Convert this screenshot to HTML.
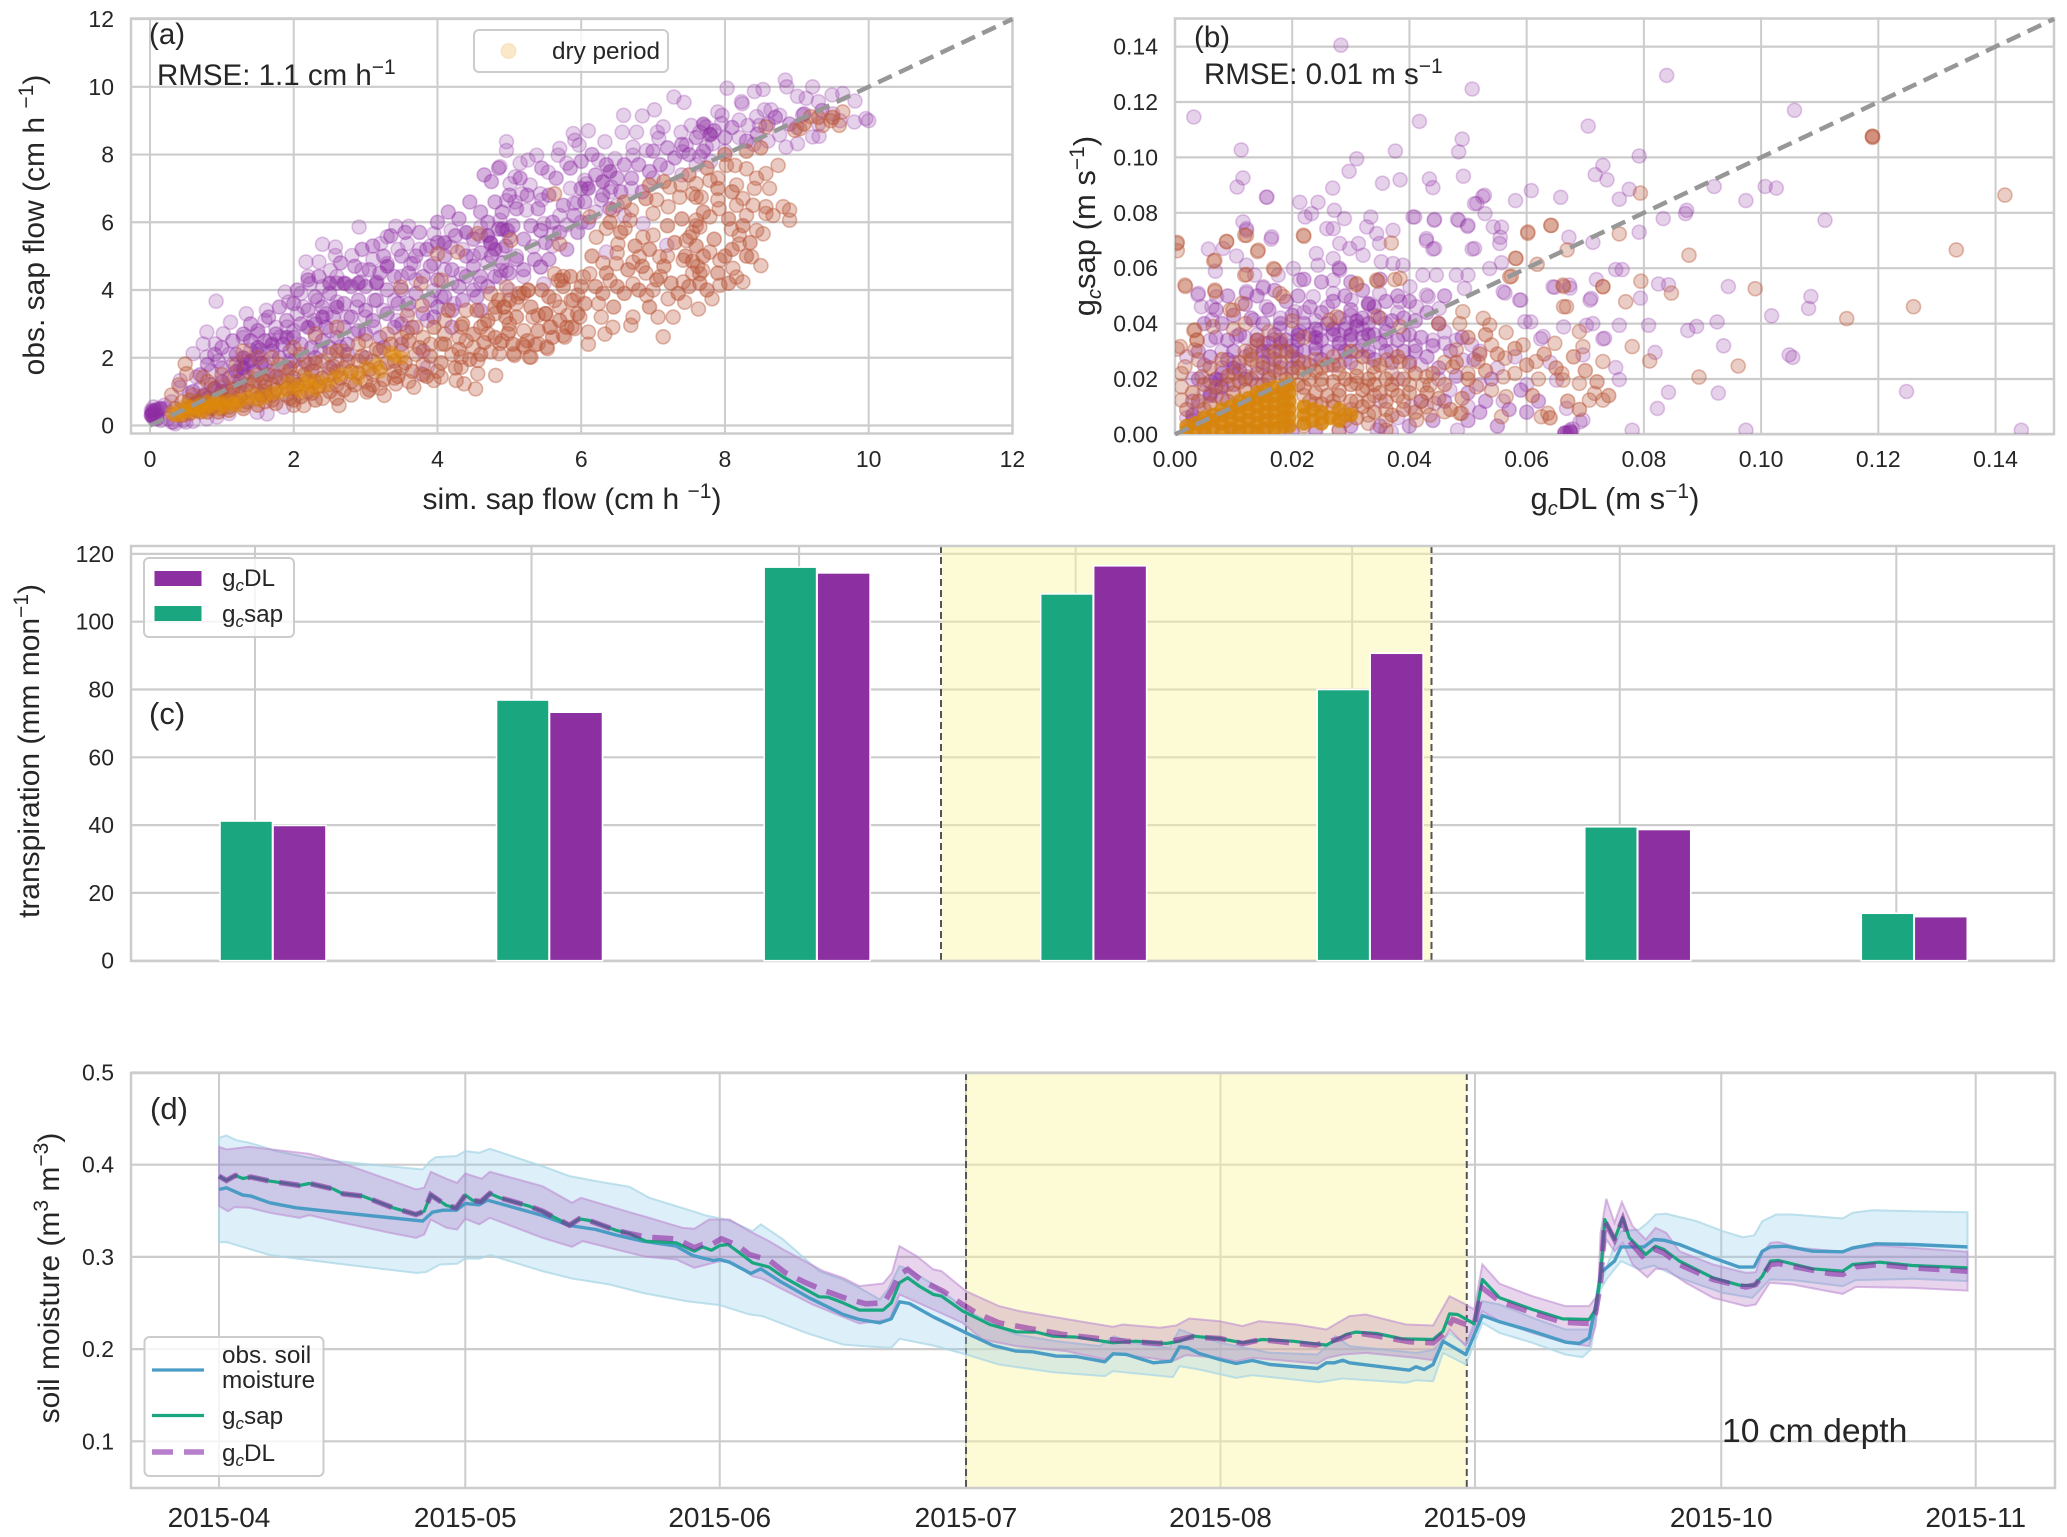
<!DOCTYPE html>
<html lang="en">
<head>
<meta charset="utf-8">
<title>Sap flow, canopy conductance, transpiration and soil moisture</title>
<style>
html,body{margin:0;padding:0;background:#fff;}
svg{display:block;}
text{font-family:"Liberation Sans",Arial,sans-serif;fill:#262626;}
.tick{font-size:23px;}
.lab{font-size:30px;}
.ann{font-size:29.5px;}
.leg{font-size:24.3px;}
</style>
</head>
<body>
<svg id="fig" xmlns="http://www.w3.org/2000/svg" width="2067" height="1537" viewBox="0 0 2067 1537">
  <defs>
    <clipPath id="clipA"><rect x="131" y="18.5" width="881.5" height="415"/></clipPath>
    <clipPath id="clipB"><rect x="1175" y="18.5" width="879" height="415.5"/></clipPath>
    <clipPath id="clipD"><rect x="131" y="1073" width="1924" height="415"/></clipPath>
  </defs>
  <g id="panelA"></g>
  <g id="panelB"></g>
  <g id="panelC"></g>
  <g id="panelD"></g>

  <g>
    <text x="149" y="44" class="ann">(a)</text>
    <text x="157" y="85" class="ann">RMSE: 1.1 cm h<tspan dy="-11" font-size="21">−1</tspan></text>
    <text x="572" y="509" text-anchor="middle" class="lab">sim. sap flow (cm h <tspan dy="-11" font-size="21">−1</tspan><tspan dy="11">)</tspan></text>
    <text x="0" y="0" transform="translate(44 225) rotate(-90)" text-anchor="middle" class="lab">obs. sap flow (cm h <tspan dy="-11" font-size="21">−1</tspan><tspan dy="11">)</tspan></text>
    <rect x="474" y="30" width="194" height="42" rx="5" fill="#fff" fill-opacity="0.8" stroke="#ccc" stroke-width="2"/>
    <circle cx="508.5" cy="51" r="7.5" fill="rgb(232,150,10)" fill-opacity="0.22" stroke="rgb(232,150,10)" stroke-opacity="0.12" stroke-width="1.5"/>
    <text x="552" y="59" font-size="24.3">dry period</text>
  </g>

  <g>
    <text x="1194" y="47" class="ann">(b)</text>
    <text x="1204" y="84" class="ann">RMSE: 0.01 m s<tspan dy="-11" font-size="21">−1</tspan></text>
    <text x="1615" y="509" text-anchor="middle" font-size="31">g<tspan dy="6" font-size="20" font-style="italic">c</tspan><tspan dy="-6">DL (m s</tspan><tspan dy="-11" font-size="21">−1</tspan><tspan dy="11">)</tspan></text>
    <text x="0" y="0" transform="translate(1095 226) rotate(-90)" text-anchor="middle" font-size="31">g<tspan dy="6" font-size="20" font-style="italic">c</tspan><tspan dy="-6">sap (m s</tspan><tspan dy="-11" font-size="21">−1</tspan><tspan dy="11">)</tspan></text>
  </g>

  <g>
    <text x="149" y="724" font-size="31">(c)</text>
    <text x="0" y="0" transform="translate(39 751) rotate(-90)" text-anchor="middle" class="lab">transpiration (mm mon<tspan dy="-11" font-size="21">−1</tspan><tspan dy="11">)</tspan></text>
    <rect x="144" y="558" width="150" height="79" rx="5" fill="#fff" fill-opacity="0.8" stroke="#ccc" stroke-width="2"/>
    <rect x="154.5" y="571" width="47" height="15" fill="#8b2fa1"/>
    <rect x="154.5" y="606" width="47" height="15" fill="#1aa67f"/>
    <text x="222" y="586" class="leg">g<tspan dy="5" font-size="17" font-style="italic">c</tspan><tspan dy="-5">DL</tspan></text>
    <text x="222" y="622" class="leg">g<tspan dy="5" font-size="17" font-style="italic">c</tspan><tspan dy="-5">sap</tspan></text>
  </g>

  <g>
    <text x="150" y="1119" font-size="31">(d)</text>
    <text x="1722" y="1442" font-size="33.7">10 cm depth</text>
    <text x="0" y="0" transform="translate(59 1278) rotate(-90)" text-anchor="middle" class="lab">soil moisture (m<tspan dy="-11" font-size="21">3</tspan><tspan dy="11"> m</tspan><tspan dy="-11" font-size="21">−3</tspan><tspan dy="11">)</tspan></text>
    <rect x="144.5" y="1337" width="179" height="139" rx="5" fill="#fff" fill-opacity="0.8" stroke="#ccc" stroke-width="2"/>
    <line x1="152" y1="1370" x2="204" y2="1370" stroke="#4a9cc5" stroke-width="3.2"/>
    <line x1="152" y1="1415.5" x2="204" y2="1415.5" stroke="#1aa67f" stroke-width="3.2"/>
    <line x1="152" y1="1452" x2="204" y2="1452" stroke="#b57fcb" stroke-width="5.5" stroke-dasharray="21 11"/>
    <text x="222" y="1363" class="leg">obs. soil</text>
    <text x="222" y="1388" class="leg">moisture</text>
    <text x="222" y="1424" class="leg">g<tspan dy="5" font-size="17" font-style="italic">c</tspan><tspan dy="-5">sap</tspan></text>
    <text x="222" y="1461" class="leg">g<tspan dy="5" font-size="17" font-style="italic">c</tspan><tspan dy="-5">DL</tspan></text>
  </g>
</svg>

<script>
/* ---------- panel (a) data: [simulated, observed] in cm/h ---------- */
const aTicks=[0,2,4,6,8,10,12];
const aWet=[[8.84,10.2],[8.86,10],[8.03,9.96],[8.41,9.86],[8.53,9.92],[9.22,10],[9.01,9.72],[9.13,9.66],[9.49,9.76],[9.64,9.8],[9.81,9.58],[9.96,9.06],[10,9],[9.8,8.96],[8.23,9.56],[8.24,9.5],[7.29,9.7],[7.43,9.54],[6.59,9.16],[6.85,9.14],[7.02,9.32],[6.1,8.7],[5.89,8.62],[5.91,8.42],[5.97,8.28],[6.57,8.66],[6.77,8.66],[7.14,8.82],[7.06,8.66],[7.08,8.48],[7.39,8.66],[7.53,8.86],[7.9,9.26],[7.96,9.16],[7.95,8.92],[7.74,8.82],[7.65,8.66],[7.79,8.58],[8.2,9.02],[8.32,8.86],[8.44,9.12],[8.55,9.32],[8.64,9.32],[8.76,9.16],[8.48,8.86],[8.76,8.58],[8.85,8.22],[9.01,8.32],[9.22,8.52],[9.31,8.54],[9.08,9.16],[9.3,9.56],[7.83,8.32],[7.46,8.28],[7.41,8.08],[7.65,7.94],[7.74,8.22],[6.72,8.22],[6.72,7.98],[6.91,8.12],[6.33,8.38],[6.24,7.84],[6.47,7.88],[5.7,8.18],[5.68,7.98],[5.38,7.98],[5.26,7.84],[5.15,7.74],[4.96,8.38],[4.96,8.12],[4.87,7.64],[5.54,7.48],[5.8,7.74],[5.85,7],[6.05,7.24],[6.07,7.14],[6.42,7.04],[6.4,6.9],[5.9,6.56],[6.28,6.66],[5.08,7.34],[5.01,7.14],[5.29,7.1],[5.43,6.84],[5.45,6.66],[5.17,6.84],[5.08,6.6],[5.24,6.36],[4.96,6.64],[4.96,5.76],[5,5.56],[4.87,6.06],[5.48,5.96],[5.43,5.76],[5.62,5.66],[5.8,5.92],[5.95,6.6],[5.33,5.28],[5.43,4.68],[4.96,4.58],[4.87,4.38],[5.48,4.18],[6.86,5.96],[6.35,5.12],[7.19,5.32],
[2.91,5.86],[3.42,5.88],[3.6,5.88],[2.4,5.35],[2.58,5.27],[2.17,4.83],[2.35,4.83],[2.58,5.02],[2.81,5.02],[1.88,3.94],[1.93,3.65],[.92,3.67],[1.62,3.4],[1.34,3.3],[1.6,3.1],[1.12,3.05],[.79,2.76],[1.02,2.71],[.74,2.41],[.91,2.41],[.42,1.33],[2.72,4.19],[2.93,4.24],[3.16,4.24],[2.51,4.58],[2.23,4.19],[2.33,3.69],[2.6,3.65],[2.88,3.5],[3.3,4.78],[3.67,4.78],[3.95,5.66],[4.19,5.27],[4.74,5.37],[4.98,5.76],[4.88,4.58],[4.33,4.48],[5.44,4.68],[5.44,5.76],[4.19,5.76],[4.6,5.86],[3.95,4.78],[3.12,3.69],[3.4,3.69],[3.21,5.37],[3.3,5.57],[3.58,5.37],[3.63,4.78],[4.05,3.8],[3.86,3.1],[3.95,3.99],[4.23,3.6],[1.91,2.91],[2.14,3.5],[2.28,3.1],[1.81,2.61],[1.53,2.22],[1.26,1.72],[1.16,1.82],[1.4,2.22],[1.67,2.51],[1.95,1.92],[2.37,2.22],[2.65,2.32],[2.84,2.71],[2.6,1.92],[3.12,2.91],[3.44,3.1],[.6,2.12],[.79,2.02],[.65,1.43],[.42,1.13],[3.86,1.72],[3.77,1.53],[1.63,.34],[1.49,.39],[1.86,.54],[.33,.1],[.47,.15],[.79,.2],[.93,.25],[1.1,.35],[2.2,4.4],[2.4,4.1],[2.6,4.4],[2.95,4.6],[3.1,4.9],[3.45,5.2],[3.75,5.2],[3.9,5.3],[4.35,5.2],[4.5,5],[4.6,5.6],[4.1,4.6],[4.2,4.2],[3.7,4.3],[3.5,4.4],[2.1,3.9],[2.05,3.3],[2.45,3.3],[2.75,3.2],[3,3.2],[3.25,3.4],[3.6,3.4],[1.3,2.6],[1.5,2.7],[1.75,2.9],[2,2.8],[2.3,2.6],[2.5,2.8],[1.1,2.1],[.95,1.9],[.85,1.6],[.7,1.1],[.55,.95],[.3,.7],[.2,.6],[.12,.5],[.02,.3],[.02,.45],[.05,.2],[.05,.55],[.1,.3],[.1,.45],[.15,.15],[.2,.5],[.25,.2],[.3,.1],[.35,.05],[.5,.1],[.6,.12],[5,4],[5.2,4.4],[4.6,4.2],[5.1,5],[4.9,5.2],[4.7,4.8],[5.6,5.3],[6,6],[6.2,6.3],[5.7,6.2],[6.5,6.5],[6.7,7],[7,7.3],[7.2,7.6],[7.6,7.7],[6.6,6.2],[7.4,7.4],[8,8.1],[8.2,8.5],[7.8,7.8],[8.4,8.3],[8.6,8.4],[9,8.8],[9.3,8.9],[9.5,9.2],[9.6,9]];
const aWetExtra=[[.6,1],[.7,1.5],[.8,1.8],[.85,1.2],[.9,2.1],[1,1.7],[1,2.3],[1.05,1],[1.1,1.4],[1.15,2.5],[1.2,2.1],[1.25,1.3],[1.3,2.7],[1.3,1.5],[1.35,1.8],[1.4,2.5],[1.4,3],[1.45,1.6],[1.5,2.1],[1.5,2.8],[1.55,1.4],[1.6,1.8],[1.6,2.5],[1.65,3.2],[1.7,1.6],[1.7,2.2],[1.75,2.7],[1.8,3.5],[1.8,2],[1.85,2.4],[1.9,3.1],[1.9,1.7],[1.95,2.2],[2,3.6],[2,2.6],[2,1.9],[2.05,4],[2.1,2.4],[2.1,3],[2.15,1.9],[2.2,3.4],[2.2,4.3],[2.25,2.3],[2.3,3],[2.3,3.8],[2.3,2],[2.35,4.4],[2.4,2.5],[2.4,3.5],[2.45,2.9],[2.5,3.9],[2.5,2.3],[2.55,3.2],[2.6,4.2],[2.6,2.6],[2.65,4.8],[2.7,3.6],[2.7,2.9],[2.75,2.4],[2.8,4.1],[2.8,3.2],[2.85,4.7],[2.9,2.8],[2.9,3.7],[2.95,5.2],[3,4.1],[3,3.4],[3,2.7],[3.05,4.6],[3.1,3.1],[3.1,5.3],[3.15,3.7],[3.2,4.5],[3.2,2.6],[3.25,5],[3.3,3.3],[3.3,4],[3.35,5.6],[3.4,2.9],[3.4,4.4],[3.45,3.6],[3.5,5],[3.5,4],[3.5,3],[3.55,5.7],[3.6,3.6],[3.6,4.5],[3.65,2.9],[3.7,5],[3.7,3.9],[3.75,5.7],[3.8,4.4],[3.8,3.3],[3.85,5.2],[3.9,3.7],[3.9,4.7],[3.95,3.2],[4,6],[4,5.4],[4,4.3],[4,3.5],[4.1,5],[4.1,3.8],[4.15,6.3],[4.2,4.6],[4.2,3.4],[4.25,5.6],[4.3,4.1],[4.3,6.1],[4.35,3.7],[4.4,5],[4.4,4.4],[4.45,6.6],[4.5,4],[4.5,5.5],[4.5,4.7],[4.55,3.8],[4.6,6.3],[4.6,5.1],[4.6,4.4],[4.65,7.4],[4.7,4.1],[4.7,6],[4.75,7.2],[4.75,5],[4.8,6.6],[4.8,4.4],[4.85,7.6],[4.85,5.8],[4.9,4.8],[4.9,6.3],[4.95,5.3],[5,6.8],[5,4.5],[5.05,5.9],[5.1,4.9],[5.1,6.4],[5.15,7.3],[5.2,5.5],[5.2,4.6],[5.25,6.8],[5.3,5.9],[5.35,4.9],[5.4,6.4],[5.45,7.6],[5.5,5.4],[5.55,6.8],[5.55,4.9],[5.6,6],[5.65,7.3],[5.7,5.7],[5.75,6.5],[5.8,5.2],[5.85,7.6],[5.9,6.2],[5.95,5.7],[6,7],[6,7.8],[6.05,6.6],[6.1,6],[6.15,8],[6.2,7.4],[6.3,6.8],[6.35,7.7],[6.4,6.4],[6.5,7.3],[6.55,6.9],[6.6,7.7],[6.7,7.3],[6.8,7.7],[6.85,6.9],[6.95,7.5],[7,8.1],[7.1,7.7],[7.2,8.2],[7.3,7.9],[7.4,8.3],[7.5,8],[7.6,8.5],[7.7,8.1],[7.85,8.7],[8,8.5],[8.1,8.8],[8.3,8.4],[8.45,8.6],[8.6,8.9],[8.7,9.1],[8.9,8.9],[9.1,9.2],[9.35,9.3],[1.5,1],[2,1.3],[2.5,1.7],[3,2],[3.5,2.4],[3.8,2.2],[4.2,2.9],[4.6,3.4],[1,1],[.8,.8],[1.25,1.15],[.65,.65],[1.75,1.45],[2.25,1.6],[2.75,2.1],[3.25,2.3]];
const aDry=[[9.64,9.26],[9.59,8.86],[9.47,9],[9.36,8.86],[9.04,8.76],[8.97,8.72],[9.19,9.12],[8.57,8.82],[8.74,7.68],[8.57,7.44],[8.62,7],[8.44,7.3],[8.41,7],[8.16,7.1],[8.14,7.68],[8.3,7.58],[8.02,7.68],[7.79,7.24],[7.9,7.3],[7.6,7.14],[7.39,7.1],[7.23,7.04],[7.05,6.66],[7.37,6.74],[7.55,6.84],[7.6,6.74],[7.67,6.74],[7.9,6.66],[7.92,6.4],[8.25,6.7],[8.16,6.5],[8.3,6.2],[8.39,6.5],[8.57,6.46],[8.57,6.26],[8.81,6.46],[8.9,6.36],[8.9,6.06],[8.67,6.2],[8.53,5.66],[8.44,5.76],[8.37,4.98],[8.5,4.72],[8.11,4.64],[8.25,4.24],[8.16,4.38],[8.09,5.8],[8.2,5.62],[8.2,5.36],[7.79,6.16],[7.6,6.06],[7.65,5.86],[7.51,5.56],[7.46,5.46],[7.69,4.58],[7.65,4.48],[7.42,4.88],[7.79,5.12],[7.93,4.88],[7.93,4.14],[7.82,3.74],[7.63,3.44],[7.42,4.24],[7.44,3.64],[7.21,3.74],[7.28,3.2],[7.07,3.2],[7.14,2.62],[7,4],[6.91,3.84],[7.09,4.98],[7,5.62],[7.21,6.46],[7,6.26],[6.7,6.36],[6.68,6.06],[6.61,5.82],[6.86,5.56],[6.81,4.98],[6.72,4.82],[6.51,5.36],[6.49,4.78],[6.35,5.82],[6.21,5.56],[6.4,4.28],[6.72,4.18],[6.24,3.6],[6.28,3.2],[6.72,3.2],[6.69,2.96],[6.44,2.9],[6.33,2.7],[6.1,2.76],[6.1,2.4],[5.87,2.9],[5.75,2.66],[5.56,2.9],[5.52,2.32],[5.36,2.38],[5.19,2.38],[5.06,2.12],[5.28,2.02],[5.89,3.7],[5.68,4.28],[6.03,4.38],[5.7,5.36],[5.7,3.5],[5.33,3.2],[4.92,3.5],[5,2.8],[4.87,2.42],[5.14,3.9],[5.26,4],[4.96,4.08],[5.98,3.2],[5.63,6.84],[6.12,6.16],[6.44,6.36],[6.12,4.48],[7.62,4.7],[7.55,4.5],[7.6,5.9],[7.55,5.7],[5.75,4.4],[5.95,3.85],[6.3,4.8],[6.5,5.1],[6.9,4.5],[7.1,4.4],[7.2,5],
[4.53,1.08],[4.81,1.48],[4.37,1.23],[4.26,1.33],[4.56,1.53],[4.33,1.72],[3.95,1.33],[3.67,1.13],[3.42,1.23],[3.26,.89],[2.63,.59],[2.14,.59],[3.02,.99],[4.05,1.43],[5.07,2.07],[5.3,2.02],[5.53,2.27],[5.21,2.32],[5.4,2.41],[5.4,3.25],[5.51,3.3],[5.77,2.61],[5.91,2.86],[5.58,2.91],[5.63,3.69],[5.81,3.25],[5.72,4.29],[5.63,4.48],[5.86,3.69],[4.93,3.5],[4.98,2.71],[4.7,2.71],[4.65,3],[4.74,3.89],[4.33,2.91],[4.33,2.02],[4.05,2.41],[3.58,2.76],[3.58,3.25],[3.79,3.55],[3.49,4.09],[3.77,4.19],[4.05,4.29],[4,5.07],[4.28,5.12],[4.56,5.67],[5.02,5.47],[5.26,3.99],[5.12,3.79],[4.56,1.92],[4.74,2.17],[4.86,2.12],[.49,1.82],[.51,1.53],[.74,1.43],
[.5,.5],[.6,.9],[.7,.4],[.8,.7],[.9,1.1],[.4,1.2],[.3,.9],[1,.5],[1.1,.9],[1.2,1.3],[1.3,.6],[1.4,1],[1.5,1.5],[1.6,.7],[1.7,1.2],[1.8,1.8],[1.9,.9],[2,1.4],[2,.6],[2.1,2.1],[2.2,1],[2.3,1.6],[2.4,.8],[2.5,2.1],[2.6,1.2],[2.7,1.7],[2.8,.9],[2.9,2.4],[3,1.3],[3.1,1.9],[3.2,1.1],[3.3,2.7],[3.4,1.6],[3.5,2.2],[3.6,1.3],[3.7,2.9],[3.8,1.8],[3.9,2.4],[4,1.6],[4.1,3.1],[4.2,2.1],[4.3,2.6],[4.4,3.4],[4.5,2.3],[4.6,2.9],[4.8,3.3],[4.9,2.5],[5,3],[5.1,3.6],[5.2,2.8],[1.3,2.2],[1.5,2],[1.2,1.8],[1,1.5],[.8,1.3],[1.7,2],[2,2.3],[2.3,2.7],[2.6,2.9],[1.1,.55],[1.5,.8],[1.9,1.1],[2.2,1.3],[2.5,1.5],[2.8,1.6],[3.1,1.5],[3.4,1.9],[3.7,2.1],[.9,.6],[1.2,.7],[1.6,1],[1.8,1.4],[2.1,1.7],[2.4,1.9],[2.7,2.2],[3,2.5],[3.2,2.2],[3.5,2.6],[3.8,2.6],[4.1,2.7],[4.4,2.5],[1.1,1.1],[1.4,1.4],[1.7,.9],[2,1.1],[2.3,1.3],[2.6,1.6],[2.9,1.9],[3.2,1.7],[3.5,1.7],[3.8,1.5],[1,.8],[1.3,.95],[1.6,1.3],[1.9,1.5],[2.2,1.8],[2.5,1.2],[2.8,1.3],[3.1,1.2],[3.4,1.4],[.45,.7],[.6,.6],[.75,.55]];
const aDryExtra=[[.55,.75],[.65,.7],[.75,.85],[.85,.5],[.95,.85],[1.05,.7],[1.15,1.05],[1.25,.85],[1.35,1.2],[1.35,.7],[1.45,1.3],[1.55,.9],[1.6,1.15],[1.65,1.5],[1.7,.75],[1.75,1.05],[1.85,1.3],[1.95,1.7],[1.95,.8],[2.05,1.2],[2.1,.85],[2.15,1.5],[2.25,.95],[2.3,1.85],[2.35,1.15],[2.4,1.4],[2.5,1],[2.55,1.75],[2.6,2.2],[2.65,1.4],[2.7,1.05],[2.75,1.9],[2.85,1.2],[2.9,1.55],[2.95,2.05],[3.05,1.05],[3.05,1.65],[3.15,2.25],[3.25,1.35],[3.3,1.85],[3.35,2.4],[3.45,1.45],[3.55,1.85],[3.6,2.5],[3.65,1.6],[3.75,2.3],[3.85,1.45],[3.9,2.05],[3.95,2.9],[4.05,1.85],[4.1,2.4],[4.15,3.4],[4.25,1.7],[4.3,2.25],[4.35,3],[4.45,1.95],[4.5,2.7],[4.55,3.4],[4.6,2.1],[4.65,2.45],[4.7,3.1],[4.8,2.6],[4.85,3.7],[4.95,3.2],[5.05,2.4],[5.1,3.2],[5.2,3.9],[5.25,2.5],[5.3,3.5],[5.4,2.8],[5.45,4],[5.5,3.3],[5.55,3.8],[5.6,2.6],[5.7,3.1],[5.75,4.1],[5.8,2.9],[5.85,4.4],[5.95,3.3],[6,4.1],[6.05,3.6],[6.15,5],[6.2,4.1],[6.3,3.9],[6.35,4.5],[6.45,3.5],[6.5,4.1],[6.55,5.7],[6.6,3.9],[6.65,4.6],[6.75,5.3],[6.8,4],[6.85,4.7],[6.95,3.5],[6.95,5.2],[7.05,4.3],[7.15,4.7],[7.25,4.2],[7.3,5.4],[7.35,3.9],[7.45,5],[7.5,4.1],[7.55,4.85],[7.6,5.3],[7.65,4.2],[7.7,5],[7.75,4],[7.85,5.5],[7.9,4.5],[8,5],[8.05,4.2],[8.1,5.2],[8.25,5.9],[8.3,5],[8.35,5.4],[7.7,6.3],[7.4,6.1],[7.2,5.9],[7.9,7],[8.1,6.9],[8.05,6.1],[9.3,9.1],[9.1,8.9],[9.5,9.1],[5,3.7],[4.8,3.5],[6.4,6],[6.6,6.6],[6.9,6.7],[6.95,7.1],[7.15,7.2],[7.5,7.4],[7.75,7.6],[8,8],[8.3,8.1],[8.5,8.2],[.35,.5],[.45,.3],[.55,.35],[.65,.45],[.8,.4],[.95,.4],[1.1,.45],[1.3,.5],[1.5,.6],[1.75,.65],[2,.75],[2.3,.75],[2.6,.8]];
const aCoreOrange=[[.3,.35],[.4,.45],[.5,.42],[.55,.55],[.65,.5],[.7,.62],[.8,.55],[.9,.68],[1,.62],[1.1,.72],[1.25,.75],[.35,.3],[.45,.35],[.6,.4],[.75,.42],[.95,.5],[1.2,.6],[1.45,.9],[1.6,.85],[1.8,1],[2.15,1.25],[2.25,1.15],[2.35,1.3],[2.05,1.1],[2.55,1.4],[2.8,1.55],[3,1.7],[3.4,2.05],[3.5,2],[3.35,2.15],[2.9,1.4],[3.15,1.8],[.4,.3],[.5,.6],[.6,.5],[.7,.45],[.8,.7],[.85,.6],[.95,.75],[1.05,.55],[1.15,.65],[1.35,.8],[1.5,.75],[1.7,.95],[1.9,1.05],[1.95,1.25],[2.2,1.4],[2.45,1.2],[2.65,1.5],[3.2,1.6],[2.3,1.05],[2.1,1]];
const aCorePurple=[[1.3,1.7],[1.2,1.6],[1.4,1.9],[1.5,2.3],[1.7,2.4],[1.3,2],[1.55,1.85],[2.7,4.2],[2.9,4.2],[3.15,4.2],[2.5,4.2],[4.74,5.4],[4.8,5.2],[4.7,5.6],[4.9,5.8],[4.4,5.7],[3.3,4.7],[.9,1.1],[1,1.3],[.75,.9],[.03,.35],[.05,.25],[.07,.45],[.15,.5],[.03,.42],[.02,.3],[.1,.2],[2.4,3.2],[2.6,3.5],[1.9,2.6],[2.2,2.9],[4.1,5.4],[6.3,7.2],[6.4,7.5],[6.1,7],[7.7,8.9],[7.8,8.6]];

/* ---------- panel (b) data: [gc DL, gc sap] in m/s ---------- */
const bTicks=[0,.02,.04,.06,.08,.10,.12,.14];
const bTickLabels=['0.00','0.02','0.04','0.06','0.08','0.10','0.12','0.14'];
const bWet=[[.0283,.1405],[.0839,.1296],[.0507,.1247],[.0032,.1146],[.1057,.117],[.0417,.113],[.0705,.1113],[.049,.1066],[.0484,.102],[.0113,.1027],[.0376,.1023],[.0792,.1005],[.031,.0995],[.0297,.095],[.073,.0971],[.0717,.0938],[.0737,.0919],[.0492,.0932],[.0434,.0922],[.044,.0891],[.0384,.0919],[.0354,.0907],[.0116,.0926],[.0106,.0893],[.0269,.0889],[.0157,.0856],[.1007,.0895],[.1026,.0889],[.092,.0895],[.0974,.0844],[.1109,.0773],[.0873,.0809],[.0871,.0797],[.0833,.0779],[.0792,.073],[.0758,.0849],[.0775,.0885],[.0658,.0856],[.0608,.088],[.0581,.0844],[.0525,.0858],[.0515,.0834],[.0529,.0797],[.0442,.0773],[.0406,.0785],[.0484,.0773],[.0499,.0751],[.0557,.0748],[.0555,.0712],[.0507,.0669],[.0429,.0699],[.044,.0669],[.0213,.0838],[.0244,.0838],[.0272,.0809],[.0222,.0785],[.0289,.0779],[.0334,.0785],[.0116,.0767],[.0122,.0736],[.0164,.0705],[.0057,.0669],[.0105,.0644],[.0069,.0589],[.0039,.0504],[.0122,.0516],[.015,.0528],[.0936,.032],[.0925,.0406],[.089,.039],[.0875,.0375],[.0808,.0394],[.0758,.0394],[.0944,.0534],[.1018,.0428],[.1085,.0498],[.1081,.0455],[.1048,.0287],[.1054,.0278],[.0927,.0149],[.0842,.0152],[.1248,.0155],[.0823,.0094],[.1444,.0015],[.0974,.0015],[.078,.0015],[.0482,.0015],[.0345,.0015],[.0369,.0009],[.0758,.0198],[.0752,.0241],[.0819,.0296],[.0794,.0492],[.0842,.054],[.0825,.0543],[.0752,.0595],[.0763,.0595],[.0713,.0693],[.0672,.0712],[.0557,.062],[.059,.0485],[.0563,.051],[.0648,.0531],[.0674,.0528],[.0719,.0559],[.0708,.0485],[.0607,.0406],[.0663,.0388],[.0702,.0394],[.0713,.04],[.073,.0345],[.0624,.0345],[.0674,.0015],[.0678,.002],[.0691,.0045],[.0665,.0005],[.067,.0005],[.0675,.0005],
[.033,.0473],[.0247,.0377],[.0293,.04],[.0179,.0383],[.0168,.0341],[.0213,.0371],[.0281,.0329],[.0207,.0305],[.0077,.0196],[.006,.0148],[.0151,.0329],[.0105,.0353],[.0134,.0413],[.0244,.0611],[.0241,.0653],[.0259,.0743],[.027,.0743],[.0281,.0689],[.0313,.0689],[.0298,.0671],[.027,.0635],[.0281,.0593],[.027,.0557],[.0321,.0647],[.0349,.0689],[.0372,.0737],[.0372,.0617],[.0389,.0611],[.0352,.0623],[.0443,.0776],[.0429,.0707],[.0443,.0671],[.0423,.0575],[.0446,.0575],[.0401,.0533],[.0429,.0503],[.0494,.0527],[.056,.0515],[.0588,.0485],[.0597,.0407],[.0645,.0533],[.0673,.0539],[.071,.0491],[.0733,.0347],[.0696,.0287],[.0651,.0196],[.0668,.0094],[.0696,.0052],[.0403,.01],[.0443,.0112],[.0469,.016],[.0491,.0269],[.0628,.0353],[.0506,.0323],[.046,.0329],[.0156,.0857],[.0233,.0797],[.0327,.0749],[.0344,.0725],[.0409,.0785],[.0482,.0776],[.05,.0755],[.0543,.0749],[.0511,.0833],[.0528,.0863],[.0554,.0689],[.0511,.0671],[.0537,.0599],[.05,.0575],[.048,.0575],[.0082,.0671],[.0122,.0743],[.0165,.0713],[.0122,.0611],[.0136,.0575],[.0151,.0533],[.0176,.0575],[.0202,.0599],[.0213,.0557],[.004,.0509],[.0045,.0461],[.0063,.0461],[.0071,.0497],[.0063,.0413],[.0122,.0509],[.0156,.0461],[.0205,.0443],[.0236,.0497],[.027,.0509],[.0301,.0485],[.0349,.0509],[.0384,.0479],[.0432,.0497],[.0451,.0455],[.0412,.0461],
[.012,.028],[.016,.03],[.02,.032],[.024,.033],[.028,.036],[.032,.038],[.036,.04],[.018,.042],[.022,.044],[.026,.046],[.03,.043],[.034,.043],[.038,.044],[.014,.036],[.02,.038],[.024,.041],[.028,.03],[.032,.032],[.036,.034],[.039,.036],[.01,.026],[.008,.024],[.012,.023],[.016,.025],[.02,.027],[.024,.029],[.029,.027],[.033,.028],[.037,.03],[.041,.032],[.044,.034],[.046,.037],[.048,.034],[.052,.03],[.055,.024],[.058,.028],[.052,.018],[.056,.012],[.06,.018],[.064,.026],[.042,.025],[.045,.02],[.05,.01],[.038,.02],[.035,.012],[.038,.006],[.028,.0015],[.015,.0015],[.024,.0008],[.024,.002],[.004,.01],[.002,.006],[.005,.015],[.003,.02],[.002,.028],[.006,.034],[.008,.03],[.012,.035]];
const bWetExtra=[[.003,.012],[.004,.02],[.004,.03],[.005,.025],[.005,.04],[.006,.019],[.006,.028],[.007,.035],[.007,.045],[.008,.013],[.008,.022],[.008,.04],[.009,.027],[.009,.034],[.009,.05],[.01,.018],[.01,.03],[.01,.043],[.011,.023],[.011,.036],[.012,.047],[.012,.02],[.013,.03],[.013,.042],[.014,.018],[.014,.022],[.014,.034],[.014,.05],[.015,.026],[.015,.04],[.016,.021],[.016,.033],[.016,.045],[.017,.027],[.017,.036],[.017,.052],[.018,.024],[.018,.03],[.018,.04],[.019,.034],[.019,.048],[.02,.024],[.02,.03],[.02,.043],[.021,.027],[.021,.034],[.021,.05],[.022,.03],[.022,.04],[.022,.056],[.023,.025],[.023,.036],[.023,.046],[.024,.031],[.024,.038],[.025,.027],[.025,.034],[.025,.044],[.025,.055],[.026,.03],[.026,.04],[.027,.025],[.027,.036],[.027,.048],[.028,.033],[.028,.042],[.028,.06],[.029,.03],[.029,.038],[.029,.05],[.03,.026],[.03,.034],[.03,.045],[.03,.055],[.031,.03],[.031,.039],[.032,.035],[.032,.042],[.032,.052],[.033,.03],[.033,.04],[.034,.027],[.034,.036],[.034,.046],[.035,.033],[.035,.042],[.035,.056],[.036,.03],[.036,.037],[.036,.048],[.037,.026],[.037,.041],[.038,.034],[.038,.05],[.039,.03],[.039,.042],[.04,.026],[.04,.036],[.04,.048],[.041,.03],[.041,.041],[.042,.035],[.043,.028],[.043,.044],[.044,.032],[.045,.04],[.045,.024],[.046,.05],[.047,.03],[.048,.021],[.049,.035],[.05,.015],[.051,.027],[.053,.012],[.054,.02],[.057,.009],[.059,.016],[.06,.008],[.062,.012],[.042,.012],[.044,.005],[.046,.012],[.05,.005],[.052,.008],[.055,.003],[.04,.003],[.035,.003],[.03,.003],[.02,.001],[.01,.001],[.005,.002],[.003,.005]];
const bDry=[[.119,.1076],[.119,.1076],[.119,.1072],[.1416,.0864],[.0794,.0871],[.1333,.0666],[.0641,.0754],[.0758,.0724],[.0602,.0726],[.0669,.0666],[.0581,.0636],[.0618,.0614],[.0574,.0571],[.0877,.0647],[.0795,.0553],[.099,.0526],[.0847,.051],[.0663,.0461],[.0769,.0479],[.073,.0534],[.0663,.0534],[.126,.0461],[.1146,.0418],[.0961,.0247],[.0894,.0207],[.081,.0265],[.078,.0317],[.0004,.0693],[.0004,.0663],[.0088,.0697],[.0066,.0626],[.0122,.0718],[.022,.0715],[.0141,.066],[.0018,.0534],[.0068,.0516],[.0122,.0577],[.017,.0595],[.0375,.0559],[.0346,.0553],[.0309,.054],[.0369,.0691],[.0004,.0308],[.0032,.0375],[.0038,.0339],[.0094,.0449],[.0185,.0498],
[.054,.0323],[.0565,.0368],[.0526,.0419],[.0537,.0395],[.0486,.04],[.0491,.0443],[.0582,.0635],[.0571,.0569],[.0648,.0329],[.0594,.0323],[.0616,.0263],[.0563,.0275],[.056,.0208],[.0517,.0263],[.048,.0305],[.0474,.0244],[.0429,.0208],[.0423,.0178],[.0435,.0178],[.0361,.0269],[.0384,.0263],[.0338,.0244],[.0327,.0172],[.031,.0184],[.0486,.0076],[.0489,.0076],[.0557,.0064],[.046,.0082],[.0435,.007],[.0412,.0052],[.0429,.01],[.0625,.0064],[.0636,.0076],[.0716,.0148],[.0707,.0124],[.073,.0124],[.069,.0184],[.0662,.0196],[.0565,.0136],[.0514,.0172],[.0696,.0317],[.073,.0263],[.069,.0371],[.0668,.0461],[.0662,.0539],[.0642,.0755],[.0602,.0731],[.073,.0533],[.0344,.0557],[.031,.0545],[.0384,.0563],[.0219,.0719],[.0017,.0539],[.0068,.0521],[.0088,.0695],[.0119,.0719],[.0142,.0665],[.0068,.0629],[.0119,.0575],[.0168,.0599],[.0003,.0689],
[.0034,.0377],[.0037,.0341],[.0034,.0305],[.004,.0269],[.0009,.0317],[.0017,.0244],[.0011,.022],[.0011,.0172],[.0011,.0124],[.0046,.0208],[.0065,.0389],[.0099,.0449],[.0114,.0473],[.0128,.0287],[.0122,.0208],[.0179,.0509],[.0276,.0425],[.0264,.0413],[.0346,.0425],[.0384,.0389],
[.022,.014],[.025,.018],[.028,.016],[.031,.012],[.034,.014],[.037,.016],[.024,.011],[.027,.012],[.03,.009],[.033,.007],[.036,.009],[.039,.012],[.04,.018],[.042,.012],[.022,.022],[.025,.024],[.028,.022],[.031,.024],[.034,.022],[.037,.022],[.04,.025],[.018,.022],[.016,.028],[.014,.025],[.012,.03],[.01,.022],[.009,.018],[.007,.014],[.02,.028],[.024,.027],[.027,.028],[.018,.034],[.014,.032],[.022,.035],[.016,.037],[.012,.04],[.01,.038],[.02,.041],[.028,.0015],[.036,.0015],[.025,.006],[.029,.005],[.033,.004],[.036,.005],[.022,.003],[.018,.0025],[.013,.001],[.046,.026],[.05,.022],[.054,.016],[.058,.022],[.062,.02],[.066,.022]];
const bDryExtra=[[.002,.009],[.003,.015],[.004,.012],[.005,.009],[.005,.018],[.006,.024],[.006,.011],[.007,.017],[.008,.027],[.009,.012],[.009,.021],[.01,.015],[.011,.019],[.011,.026],[.012,.016],[.013,.02],[.013,.027],[.014,.034],[.015,.018],[.015,.024],[.016,.02],[.017,.023],[.017,.03],[.018,.026],[.019,.02],[.019,.03],[.02,.022],[.021,.018],[.021,.024],[.022,.017],[.022,.026],[.023,.012],[.023,.02],[.024,.015],[.024,.023],[.025,.011],[.025,.02],[.026,.014],[.026,.025],[.027,.01],[.027,.019],[.028,.014],[.028,.025],[.029,.007],[.029,.02],[.03,.012],[.03,.018],[.03,.03],[.031,.006],[.031,.021],[.032,.01],[.032,.016],[.032,.028],[.033,.012],[.033,.02],[.034,.008],[.034,.018],[.035,.015],[.035,.025],[.036,.012],[.036,.02],[.037,.007],[.037,.018],[.038,.014],[.038,.028],[.039,.009],[.039,.02],[.04,.015],[.041,.022],[.041,.008],[.043,.015],[.044,.022],[.045,.013],[.046,.018],[.047,.009],[.048,.026],[.049,.013],[.05,.02],[.052,.029],[.053,.023],[.055,.029],[.058,.031],[.06,.025],[.063,.029],[.065,.024],[.068,.028],[.07,.023],[.072,.019],[.074,.014],[.061,.014],[.067,.012],[.069,.009],[.064,.006],[.05,.035],[.053,.036],[.045,.04]];
const bCoreOrange=[[.002,.001],[.002,.003],[.005,.001],[.005,.004],[.005,.006],[.008,.001],[.008,.004],[.008,.007],[.008,.009],[.011,.001],[.011,.004],[.011,.007],[.011,.01],[.011,.012],[.014,.001],[.014,.004],[.014,.007],[.014,.01],[.014,.013],[.014,.015],[.017,.002],[.017,.005],[.017,.008],[.017,.011],[.017,.014],[.017,.017],[.0195,.003],[.0195,.006],[.0195,.009],[.0195,.012],[.0195,.015],[.0195,.018],[.022,.004],[.022,.007],[.022,.01],[.025,.004],[.025,.008],[.028,.005],[.028,.009],[.03,.007],
[.0035,.002],[.0035,.004],[.0065,.002],[.0065,.005],[.0065,.007],[.0095,.002],[.0095,.005],[.0095,.008],[.0095,.01],[.0125,.002],[.0125,.005],[.0125,.008],[.0125,.011],[.0125,.013],[.0155,.002],[.0155,.005],[.0155,.008],[.0155,.011],[.0155,.014],[.0155,.016],[.0185,.003],[.0185,.006],[.0185,.009],[.0185,.012],[.0185,.015],[.0185,.017],[.0235,.005],[.0235,.009],[.0265,.006]];
const bCorePurple=[[.008,.017],[.007,.02],[.006,.014],[.003,.007],[.01,.024],[.024,.035],[.027,.038],[.03,.036],[.033,.036],[.031,.041],[.021,.036],[.018,.033],[.015,.03],[.033,.047],[.0665,.0005],[.0675,.001]];

/* ---------- panel (c) data: monthly transpiration, mm/month ---------- */
const cMonths=['2015-04','2015-05','2015-06','2015-07','2015-08','2015-09','2015-10'];
const cMonthEndDays=[0,31,61,92,123,153,184];
const cSap=[41.2,76.9,116.1,108.2,80,39.5,14];
const cDL=[39.9,73.3,114.4,116.5,90.7,38.7,13];
const cTicks=[0,20,40,60,80,100,120];

/* ---------- panel (d) data: [day since 2015-04-01, soil moisture] ---------- */
const dTickLabels=['2015-04','2015-05','2015-06','2015-07','2015-08','2015-09','2015-10','2015-11'];
const dTickDays=[0,30,61,91,122,153,183,214];
const dYTicks=[.1,.2,.3,.4,.5];
const dDryWindow=[91,152];
const obsLine=[[0,.3731],[.9,.3749],[2.9,.367],[3.9,.3659],[6.2,.3587],[9.4,.3532],[15.1,.3478],[24.8,.3388],[26,.3485],[27.3,.3507],[28.9,.3507],[30,.3579],[31.7,.3565],[32.7,.3616],[39.4,.3449],[42.7,.3341],[45.9,.3297],[48.4,.3236],[51.6,.3171],[55.7,.3117],[57.7,.3015],[60.2,.2961],[61,.2972],[62.2,.2943],[64.8,.282],[66,.2871],[68.3,.2737],[71.9,.2556],[76,.2376],[78,.2321],[80.5,.2285],[81.9,.2329],[82.9,.2513],[84.1,.2495],[87,.235],[91,.2177],[94.3,.2039],[97.1,.1978],[99.1,.1971],[102,.1924],[104.4,.192],[107.9,.1862],[108.9,.1949],[110.5,.1942],[113.8,.1851],[116,.1869],[117,.2025],[118,.2014],[119.4,.1952],[121.9,.1887],[123.9,.1844],[125.9,.1876],[128,.1833],[133.8,.179],[134.9,.1851],[135.9,.1851],[136.9,.188],[137.7,.1851],[145,.1771],[145.8,.1808],[146.8,.1779],[147.9,.1833],[149.1,.2086],[151.9,.1941],[153.9,.2364],[156,.2296],[160,.2194],[164.1,.2075],[165.7,.2061],[166.9,.2122],[167.7,.2466],[168.3,.2827],[169,.2881],[170,.2954],[170.8,.3109],[172.2,.3109],[173.6,.3109],[174.8,.3189],[176,.3181],[177.9,.3134],[182,.299],[185.2,.2889],[187,.2892],[188,.3062],[189,.3109],[190.9,.3116],[194.1,.3062],[197.8,.3055],[199,.3098],[201.8,.3142],[206.3,.3134],[213,.3109]];
const obsUpper=[[0,.4292],[.9,.4317],[2.1,.4266],[3.7,.4237],[7,.4147],[11,.4075],[15,.4031],[24.8,.3948],[25.7,.4038],[26.4,.4082],[28.9,.4093],[30,.4147],[31.7,.4129],[33,.4172],[39.4,.3984],[42.7,.3876],[45.9,.3822],[50,.376],[52.4,.3641],[57.7,.3496],[59.3,.3449],[62,.34],[65,.328],[66,.3352],[68.7,.319],[73.1,.2846],[76,.2755],[78,.2665],[80.5,.2538],[81.5,.2647],[82.9,.29],[84,.2864],[87,.2701],[91,.243],[93.9,.2285],[97,.2159],[102,.2086],[107.3,.2032],[109,.214],[111.3,.2068],[115.8,.2014],[117,.2213],[118.6,.2159],[122,.2068],[128,.196],[133.8,.1941],[135,.2032],[136,.214],[137.7,.2032],[145.8,.1959],[147.9,.199],[149.9,.2176],[151.9,.205],[153.9,.252],[156,.2484],[160,.2339],[164,.2213],[166.9,.2213],[168.1,.2646],[169.8,.308],[170.8,.3279],[173,.3297],[174,.3369],[175,.346],[176.3,.3467],[180,.3387],[183.2,.3279],[185.6,.3214],[187,.3232],[188,.3387],[189.7,.346],[191.7,.346],[197.8,.3416],[199,.3478],[201.4,.3507],[206.3,.3496],[213,.3485]];
const obsLower=[[0,.316],[.9,.316],[3.3,.3098],[6.2,.3019],[11,.2965],[17,.29],[24,.2827],[25.2,.2834],[26.9,.2918],[29,.2925],[30,.2983],[31.7,.2979],[33,.3019],[39.4,.2846],[43,.2766],[47.6,.2701],[51.6,.261],[57,.252],[61,.2477],[64.6,.2376],[66.2,.2358],[71.5,.2177],[76,.205],[78.4,.2032],[81.9,.2014],[82.9,.2112],[87,.2039],[91,.1942],[95,.1833],[101.6,.175],[107.9,.1707],[108.9,.1761],[116.2,.1696],[117,.1815],[119.4,.1779],[123.9,.1688],[125.9,.1717],[134,.1641],[136.9,.1681],[144.6,.1634],[145.8,.1663],[147.9,.1652],[149.1,.1959],[151.9,.1833],[153.9,.2285],[156,.2176],[160,.2068],[164,.1941],[166.1,.1912],[167.1,.1995],[168.3,.2646],[169,.2755],[170.8,.2954],[173,.2863],[174.8,.2907],[177.9,.2773],[183.2,.261],[186.8,.2556],[188.9,.2755],[191.7,.2748],[197.8,.2683],[199.4,.2748],[206.3,.2762],[213,.2737]];
const sapLine=[[0,.3876],[.9,.3829],[2,.3883],[2.9,.385],[3.9,.3865],[6.2,.3822],[9.8,.3775],[11,.3796],[13.9,.3738],[15.1,.3684],[17.5,.3659],[21.2,.3532],[24,.346],[25,.3496],[25.8,.3673],[27.7,.3558],[28.9,.3532],[30,.367],[30.9,.3612],[31.9,.3601],[33,.3688],[34.2,.3641],[37.8,.355],[39.4,.3496],[42.7,.3344],[43.9,.3413],[45.1,.3395],[48.4,.3287],[50,.3254],[52,.317],[55.7,.3153],[57.9,.3062],[58.9,.3109],[60,.3073],[61,.3124],[62,.3135],[63.4,.3044],[65,.2936],[67,.2889],[68.7,.2784],[71.1,.2665],[73.1,.2567],[74.2,.2564],[76,.2502],[78,.2423],[80.9,.2423],[81.9,.2502],[82.9,.2719],[83.9,.2773],[85.3,.2683],[87,.2593],[88,.2575],[90.6,.2412],[93.9,.2267],[97.1,.2188],[99.5,.2184],[101.6,.214],[104.4,.213],[108.9,.2068],[111.7,.2086],[115.4,.2061],[117,.2086],[118.6,.214],[121.9,.2115],[124.7,.2068],[127.1,.2104],[130.8,.2086],[134.9,.2043],[137.3,.2158],[138.5,.2184],[141,.2169],[144.2,.2111],[147.9,.2104],[149.1,.2194],[149.9,.2382],[150.9,.2375],[152.9,.2274],[153.9,.2755],[156,.2556],[160,.2429],[163.7,.2328],[166.9,.2321],[167.7,.2429],[168.3,.2791],[168.8,.3406],[170,.3189],[171,.3424],[171.8,.3207],[173.8,.3026],[175,.3116],[176,.308],[177.9,.2954],[182,.2773],[185.2,.2693],[187,.269],[188,.2791],[189,.2954],[190,.2961],[194.1,.2871],[197.8,.2845],[199,.2918],[202.3,.2943],[206.3,.2907],[213,.2881]];
const dlLine=[[0,.3876],[.9,.3829],[2,.3883],[2.9,.385],[3.9,.3865],[6.2,.3822],[9.8,.3775],[11,.3796],[13.9,.3738],[15.1,.3684],[17.5,.3659],[21.2,.3532],[24,.346],[25,.3496],[25.8,.3673],[27.7,.3558],[28.9,.3532],[30,.367],[30.9,.3612],[31.9,.3601],[33,.3688],[34.2,.3641],[37.8,.355],[39.4,.3496],[42.7,.3344],[43.9,.3413],[45.1,.3395],[48.4,.3287],[50,.3254],[52,.3215],[55.7,.3195],[57.9,.31],[58.9,.3135],[60,.3135],[61.2,.3196],[63.2,.3124],[64.6,.3026],[67,.2965],[69,.2828],[71.5,.2719],[73.6,.264],[76.4,.2549],[78.8,.2491],[81,.2502],[82,.2647],[82.9,.2809],[83.9,.2864],[85.7,.2737],[88.2,.2629],[90.6,.2484],[92.2,.2394],[95,.2285],[98.7,.2224],[102.8,.2159],[106.4,.2122],[110.5,.2086],[114.6,.2061],[118.6,.2133],[121.9,.2115],[124.7,.2061],[127,.2104],[129.8,.2075],[133.6,.2043],[136.9,.2122],[138.5,.2177],[141.2,.214],[145,.2079],[147.9,.2068],[149.3,.2176],[150.3,.2321],[151.9,.2267],[152.9,.2267],[153.9,.2664],[156,.252],[160,.2393],[163.7,.2292],[166.9,.2278],[167.7,.2393],[168.3,.2719],[168.8,.3388],[170,.3189],[171,.3406],[171.8,.3171],[173.4,.3008],[174.8,.3087],[176,.3044],[177.9,.2918],[182,.2755],[186,.2672],[187.2,.27],[189,.2918],[190,.2928],[192,.2892],[196.2,.282],[197.8,.2809],[199.4,.2892],[202.3,.2918],[206.3,.2881],[213,.2845]];
const dlUpper=[[0,.4194],[.9,.4165],[3.7,.4194],[11,.4118],[14.3,.4038],[21.2,.3822],[24,.3731],[25,.3749],[25.8,.3923],[27.7,.3847],[29,.3804],[30,.3905],[32,.3847],[33,.3923],[39.4,.3767],[43,.3587],[44.1,.3641],[50,.3485],[52.4,.3424],[56.5,.3315],[57.9,.3305],[59.7,.3406],[62.2,.3406],[64.6,.328],[67,.3171],[68.7,.3081],[73.6,.2846],[76,.2773],[78,.2683],[80.9,.2712],[82,.2828],[82.9,.3117],[85,.3008],[87,.2864],[88,.2846],[91,.2629],[95,.2466],[97.5,.2412],[102.8,.2332],[108.9,.2242],[110.1,.2267],[114.6,.2231],[116.6,.2256],[118.2,.2332],[121.9,.2303],[124.7,.2249],[126.7,.2303],[131.2,.2267],[134.9,.2213],[137.7,.2358],[139.7,.2375],[144.6,.2267],[147.9,.2256],[149.9,.2574],[151.9,.2484],[152.9,.2429],[153.9,.2918],[156,.2708],[160,.2574],[164,.2466],[166.9,.2466],[168,.2592],[168.3,.3261],[169,.363],[170,.3369],[170.9,.3594],[172.2,.3333],[173.8,.3189],[175,.3315],[176.3,.3261],[177.9,.3062],[182,.2918],[186,.2827],[187.2,.2834],[188,.3044],[189,.3153],[190,.316],[192.5,.3098],[197.8,.3055],[199.4,.3098],[202.3,.3124],[213,.3055]];
const dlLower=[[0,.3551],[1.1,.3496],[1.9,.354],[3.7,.3532],[6.2,.3478],[9.8,.3424],[11,.3453],[15.1,.337],[20.8,.3261],[24,.3207],[25,.3243],[25.8,.3406],[27.7,.3316],[29,.3297],[30,.3413],[31.7,.3352],[33,.3424],[39.4,.3207],[43,.311],[44.3,.3171],[49.2,.3062],[52,.3001],[55.7,.2972],[57.9,.2882],[61,.2954],[62.6,.2936],[65,.2791],[66.2,.2762],[68.3,.2665],[72.3,.2484],[74.8,.2394],[78,.2278],[81.7,.2321],[82.9,.2592],[87,.243],[90.6,.2285],[93,.2105],[97.1,.2032],[103.2,.1978],[107.9,.1888],[108.9,.1953],[116.2,.187],[117.8,.1935],[121.9,.1905],[123.9,.1869],[125.9,.1905],[133.8,.1844],[135,.1905],[136.9,.1941],[139.7,.1959],[145.8,.1905],[147.9,.188],[149.9,.2213],[151.9,.2032],[153.9,.2411],[156,.2303],[160,.2176],[164,.2068],[166.9,.2032],[167.7,.2249],[168.3,.2827],[169,.3189],[170,.3062],[171,.3153],[172.2,.2918],[174,.278],[175,.2871],[176.3,.2864],[178.7,.2719],[182,.2556],[186,.2466],[187.2,.2484],[188.9,.2719],[191.7,.2701],[197.8,.2599],[199.4,.2675],[206.3,.2664],[213,.2635]];

/* ---------- scales ---------- */
const xA=v=>150+v*71.87;
const yA=v=>425.5-v*33.87;
const xB=v=>1175+v*5861;
const yB=v=>434.4-v*2770;
const xC=d=>255+d*8.92;
const yC=v=>960.7-v*3.39;
const xD=d=>219+d*8.209;
const yD=v=>1533.5-v*922;

const NS='http://www.w3.org/2000/svg';
function node(tag,parent,attrs){
  const el=document.createElementNS(NS,tag);
  for(const k in attrs){el.setAttribute(k,attrs[k]);}
  parent.appendChild(el);
  return el;
}
const GRID='#cccccc';
const PURPLE='rgb(142,45,163)';
const BROWN='rgb(186,88,58)';
const ORANGE='rgb(222,138,10)';

function frame(parent,x,y,w,h){
  const f=node('rect',parent,{x:x,y:y,width:w,height:h,fill:'none',stroke:GRID,'stroke-width':2.5});
  
  
}
function xGrid(parent,x,y1,y2){
  const l=node('line',parent,{x1:x,x2:x,y1:y1,y2:y2,stroke:GRID,'stroke-width':2});
  
  
}
function yGrid(parent,y,x1,x2){
  const l=node('line',parent,{x1:x1,x2:x2,y1:y,y2:y,stroke:GRID,'stroke-width':2.2});
  
  
}
function xLabel(parent,x,y,txt,size){
  const t=node('text',parent,{x:x,y:y,'text-anchor':'middle','font-size':size});
  t.textContent=txt;
  
  
}
function yLabel(parent,x,y,txt){
  const t=node('text',parent,{x:x,y:y+8,'text-anchor':'end','font-size':23});
  t.textContent=txt;
  
  
}
function scatter(parent,pts,sx,sy,color,fillA,strokeA){
  pts.forEach(function(p){
    const c=node('circle',parent,{cx:sx(p[0]).toFixed(1),cy:sy(p[1]).toFixed(1),r:7,fill:color,'fill-opacity':fillA,stroke:color,'stroke-opacity':strokeA,'stroke-width':1.6});
    
    
  });
}
function dryBand(parent,x1,x2,y1,y2){
  const r=node('rect',parent,{x:x1,y:y1,width:x2-x1,height:y2-y1,fill:'rgb(250,245,165)','fill-opacity':.45});
  
  
  [x1,x2].forEach(function(x){
    const l=node('line',parent,{x1:x,x2:x,y1:y1,y2:y2,stroke:'#555','stroke-width':2,'stroke-dasharray':'7 4'});
    
    
  });
}
function pathOf(series){
  return series.map(function(p,i){return (i?'L':'M')+xD(p[0]).toFixed(1)+' '+yD(p[1]).toFixed(1);}).join('');
}

/* ---------- panel (a) ---------- */
(function(){
  const g=document.getElementById('panelA');
  const bg=node('g',g,{});
  aTicks.forEach(function(v){
    xGrid(bg,xA(v),18.5,433.5);
    yGrid(bg,yA(v),131,1012.5);
    xLabel(g,xA(v),467,String(v),23);
    yLabel(g,114,yA(v),String(v));
  });
  frame(g,131,18.5,881.5,415);
  const pts=node('g',g,{'clip-path':'url(#clipA)'});
  scatter(pts,aWet,xA,yA,PURPLE,.22,.26);
  scatter(pts,aWetExtra,xA,yA,PURPLE,.36,.34);
  scatter(pts,aCorePurple,xA,yA,PURPLE,.55,.3);
  scatter(pts,aDry,xA,yA,BROWN,.32,.42);
  scatter(pts,aDryExtra,xA,yA,BROWN,.46,.46);
  scatter(pts,aCoreOrange,xA,yA,ORANGE,.5,.14);
  const d=node('line',g,{x1:xA(0),y1:yA(0),x2:xA(12),y2:yA(12),stroke:'#979797','stroke-width':4.5,'stroke-dasharray':'15 8'});
  
  
})();

/* ---------- panel (b) ---------- */
(function(){
  const g=document.getElementById('panelB');
  const bg=node('g',g,{});
  bTicks.forEach(function(v,i){
    xGrid(bg,xB(v),18.5,434);
    yGrid(bg,yB(v),1175,2054);
    xLabel(g,xB(v),467,bTickLabels[i],23);
    yLabel(g,1158,yB(v),bTickLabels[i]);
  });
  frame(g,1175,18.5,879,415.5);
  const pts=node('g',g,{'clip-path':'url(#clipB)'});
  scatter(pts,bWet,xB,yB,PURPLE,.22,.26);
  scatter(pts,bWetExtra,xB,yB,PURPLE,.36,.34);
  scatter(pts,bCorePurple,xB,yB,PURPLE,.55,.3);
  scatter(pts,bDry,xB,yB,BROWN,.3,.4);
  scatter(pts,bDryExtra,xB,yB,BROWN,.42,.46);
  scatter(pts,bCoreOrange,xB,yB,'rgb(214,132,12)',.85,.4);
  const d=node('line',g,{x1:xB(0),y1:yB(0),x2:xB(.15),y2:yB(.15),stroke:'#979797','stroke-width':4.5,'stroke-dasharray':'15 8'});
  
  
})();

/* ---------- panel (c) ---------- */
(function(){
  const g=document.getElementById('panelC');
  const bg=node('g',g,{});
  cMonthEndDays.forEach(function(d){xGrid(bg,xC(d),546,961);});
  cTicks.forEach(function(v){
    yGrid(bg,yC(v),131,2054);
    yLabel(g,114,yC(v),String(v));
  });
  dryBand(g,941,1431.5,546,961);
  frame(g,131,546,1923,415);
  cMonths.forEach(function(m,i){
    const tick=xC(cMonthEndDays[i]);
    const a=node('rect',g,{x:tick-35,y:yC(cSap[i]),width:52.5,height:yC(0)-yC(cSap[i]),fill:'#1aa67f',stroke:'#fff','stroke-width':1.6});
    
    
    const b=node('rect',g,{x:tick+18,y:yC(cDL[i]),width:53,height:yC(0)-yC(cDL[i]),fill:'#8b2fa1',stroke:'#fff','stroke-width':1.6});
    
    
  });
})();

/* ---------- panel (d) ---------- */
(function(){
  const g=document.getElementById('panelD');
  const bg=node('g',g,{});
  dTickDays.forEach(function(d,i){
    xGrid(bg,xD(d),1073,1488);
    xLabel(g,xD(d),1527,dTickLabels[i],28);
  });
  dYTicks.forEach(function(v){
    yGrid(bg,yD(v),131,2055);
    yLabel(g,114,yD(v),v.toFixed(1));
  });
  dryBand(g,xD(dDryWindow[0]),xD(dDryWindow[1]),1073,1488);
  frame(g,131,1073,1924,415);
  const c=node('g',g,{'clip-path':'url(#clipD)'});
  const obsBandD=pathOf(obsUpper)+pathOf(obsLower.slice().reverse()).replace('M','L')+'Z';
  const dlBandD=pathOf(dlUpper)+pathOf(dlLower.slice().reverse()).replace('M','L')+'Z';
  const b1=node('path',c,{d:obsBandD,fill:'rgb(150,205,235)','fill-opacity':.32,stroke:'rgb(170,215,230)','stroke-opacity':.75,'stroke-width':2});
  
  
  const b2=node('path',c,{d:dlBandD,fill:'rgb(142,45,163)','fill-opacity':.2,stroke:'rgb(190,140,210)','stroke-opacity':.6,'stroke-width':2});
  
  
  const l1=node('path',c,{d:pathOf(obsLine),fill:'none',stroke:'#4a9cc5','stroke-width':3.4,'stroke-linejoin':'round'});
  
  
  const l2=node('path',c,{d:pathOf(sapLine),fill:'none',stroke:'#1aa67f','stroke-width':3.2,'stroke-linejoin':'round'});
  
  
  const l3=node('path',c,{d:pathOf(dlLine),fill:'none',stroke:'rgb(142,45,163)','stroke-opacity':.6,'stroke-width':5.5,'stroke-dasharray':'21 11'});
  
  
})();
</script>
</body>
</html>
